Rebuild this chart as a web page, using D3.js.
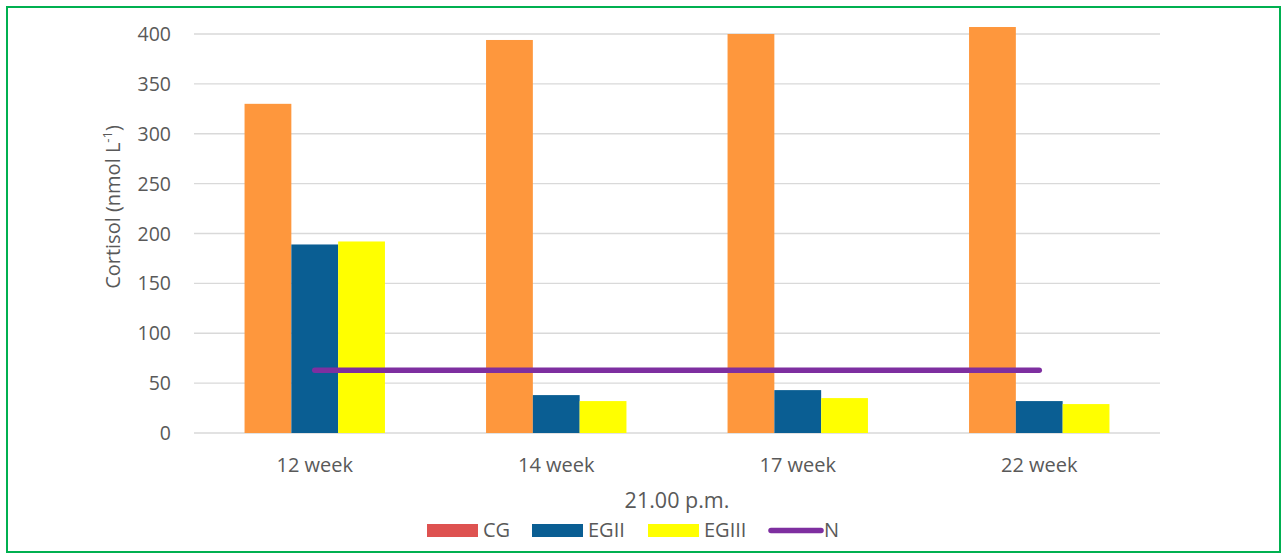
<!DOCTYPE html>
<html>
<head>
<meta charset="utf-8">
<script src="https://cdn.jsdelivr.net/npm/d3@7"></script>
<style>
  body { margin: 0; background: #fff; }
  svg text { font-family: "Open Sans", "Noto Sans", sans-serif; fill: #595959; }
</style>
</head>
<body>
<svg id="chart" width="1287" height="559"></svg>
<script>
const weeks = ['12 week', '14 week', '17 week', '22 week']
const cg = [330, 394, 400, 407]
const egii = [189, 38, 43, 32]
const egiii = [192, 32, 35, 29]
const nLevel = [63, 63, 63, 63]
const yTicks = [0, 50, 100, 150, 200, 250, 300, 350, 400]

const series = [
  { name: 'CG', values: cg, fill: '#FE973D', legend: '#DE5250' },
  { name: 'EGII', values: egii, fill: '#0A5E93', legend: '#0A5E93' },
  { name: 'EGIII', values: egiii, fill: '#FFFF00', legend: '#FFFF00' }
]

const svg = d3.select('#chart')
const plotLeft = 194, plotRight = 1160, plotTop = 34, plotBottom = 433

// green outer frame
svg.append('rect')
  .attr('x', 7).attr('y', 7).attr('width', 1273).attr('height', 545)
  .attr('fill', 'none').attr('stroke', '#00B050').attr('stroke-width', 2)

const x = d3.scaleBand().domain(weeks).range([plotLeft, plotRight])
const y = d3.scaleLinear().domain([0, 400]).range([plotBottom, plotTop])
const inner = d3.scaleBand().domain(series.map(s => s.name))
  .range([0, x.bandwidth()]).paddingInner(0).paddingOuter(1.08)

// gridlines
svg.append('g').selectAll('line').data(yTicks).enter()
  .append('line')
  .attr('x1', plotLeft).attr('x2', plotRight)
  .attr('y1', d => y(d)).attr('y2', d => y(d))
  .attr('stroke', '#D9D9D9').attr('stroke-width', 1.3)

// y tick labels
svg.append('g').selectAll('text').data(yTicks).enter()
  .append('text')
  .attr('x', 171).attr('y', d => y(d))
  .attr('dy', '0.36em')
  .attr('text-anchor', 'end')
  .attr('font-size', 19.5)
  .text(d => d)

// bars
series.forEach(s => {
  svg.append('g').selectAll('rect').data(s.values).enter()
    .append('rect')
    .attr('x', (d, i) => x(weeks[i]) + inner(s.name))
    .attr('width', inner.bandwidth())
    .attr('y', d => y(d))
    .attr('height', d => y(0) - y(d))
    .attr('fill', s.fill)
})

// N line
const line = d3.line()
  .x((d, i) => x(weeks[i]) + x.bandwidth() / 2)
  .y(d => y(d))
svg.append('path')
  .datum(nLevel)
  .attr('d', line)
  .attr('fill', 'none')
  .attr('stroke', '#7E2FA0')
  .attr('stroke-width', 5.5)
  .attr('stroke-linecap', 'round')

// x labels
svg.append('g').selectAll('text').data(weeks).enter()
  .append('text')
  .attr('x', d => x(d) + x.bandwidth() / 2)
  .attr('y', 472)
  .attr('text-anchor', 'middle')
  .attr('font-size', 20)
  .text(d => d)

// x axis title
svg.append('text')
  .attr('x', (plotLeft + plotRight) / 2).attr('y', 508)
  .attr('text-anchor', 'middle')
  .attr('font-size', 21.5)
  .text('21.00 p.m.')

// y axis title
const yt = svg.append('text')
  .attr('transform', 'translate(120,207) rotate(-90)')
  .attr('text-anchor', 'middle')
  .attr('font-size', 20)
yt.append('tspan').text('Cortisol (nmol L')
yt.append('tspan').attr('font-size', 13).attr('dy', -8).text('-1')
yt.append('tspan').attr('dy', 8).text(')')

// legend
const legendItems = [
  { name: 'CG', color: '#DE5250', type: 'rect', x: 427 },
  { name: 'EGII', color: '#0A5E93', type: 'rect', x: 532 },
  { name: 'EGIII', color: '#FFFF00', type: 'rect', x: 648 },
  { name: 'N', color: '#7E2FA0', type: 'line', x: 769 }
]
const lg = svg.append('g').selectAll('g').data(legendItems).enter()
  .append('g')
  .attr('transform', d => `translate(${d.x},530.5)`)
lg.filter(d => d.type === 'rect').append('rect')
  .attr('x', 0).attr('y', -6.5).attr('width', 51).attr('height', 13)
  .attr('fill', d => d.color)
lg.filter(d => d.type === 'line').append('line')
  .attr('x1', 2).attr('x2', 52).attr('y1', 0).attr('y2', 0)
  .attr('stroke', d => d.color).attr('stroke-width', 5.5)
  .attr('stroke-linecap', 'round')
lg.append('text')
  .attr('x', d => d.type === 'line' ? 55 : 56)
  .attr('y', 6.5)
  .attr('font-size', 20)
  .text(d => d.name)
</script>
</body>
</html>
